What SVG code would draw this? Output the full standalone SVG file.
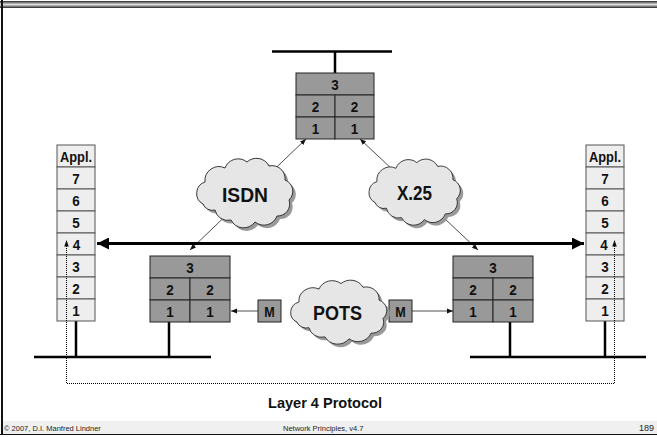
<svg xmlns="http://www.w3.org/2000/svg" width="657" height="437" viewBox="0 0 657 437">
<style>
.lbl{font-family:"Liberation Sans",Arial,sans-serif;font-weight:bold;fill:#111;text-anchor:middle}
.n{font-size:15px}
.big{font-size:20px}
.stk{fill:#eeeeee;stroke:#555;stroke-width:1}
.rtr{fill:#999999;stroke:#222;stroke-width:1}
.bus{stroke:#000;stroke-width:2.5;fill:none}
.thin{stroke:#222;stroke-width:0.8;fill:none}
.foot{font-family:"Liberation Sans",Arial,sans-serif;font-size:7.5px;fill:#222}
</style>
<defs>
<linearGradient id="bar" x1="0" y1="0" x2="0" y2="1">
<stop offset="0" stop-color="#222"/>
<stop offset="0.25" stop-color="#888"/>
<stop offset="0.5" stop-color="#ddd"/>
<stop offset="0.75" stop-color="#888"/>
<stop offset="1" stop-color="#222"/>
</linearGradient>
<path id="cloud" d="M -40,10 a 12 12 0 0 1 2,-22 a 14 14 0 0 1 20,-14 a 14 14 0 0 1 22,-6 a 14 14 0 0 1 22,4 a 13 13 0 0 1 16,14 a 12 12 0 0 1 4,20 a 12 12 0 0 1 -12,16 a 14 14 0 0 1 -22,6 a 14 14 0 0 1 -24,-2 a 13 13 0 0 1 -16,-10 a 10 10 0 0 1 -12,-6 z"/>
<marker id="sa" viewBox="0 0 10 10" refX="10" refY="5" markerWidth="6" markerHeight="6" markerUnits="userSpaceOnUse" orient="auto-start-reverse">
<path d="M0,1 L10,5 L0,9 z" fill="#111"/>
</marker>
<marker id="ba" viewBox="0 0 10 10" refX="10" refY="5" markerWidth="5" markerHeight="4" orient="auto-start-reverse">
<path d="M0,0 L10,5 L0,10 z" fill="#000"/>
</marker>
</defs>
<rect width="657" height="437" fill="#fff"/>
<!-- frame -->
<rect x="0" y="1" width="657" height="7" fill="url(#bar)"/>
<rect x="1" y="0" width="2" height="435" fill="#111"/>
<rect x="3" y="421" width="654" height="13" fill="#f0f0f0"/>
<line x1="0" y1="434.5" x2="657" y2="434.5" stroke="#111" stroke-width="1.2"/>
<text class="foot" x="4" y="431">© 2007, D.I. Manfred Lindner</text>
<text class="foot" x="283" y="431">Network Principles, v4.7</text>
<text class="foot" x="654" y="431" text-anchor="end" style="font-size:9px">189</text>

<g id="connectors">
<line class="bus" x1="272" y1="51.5" x2="392" y2="51.5"/>
<line class="bus" x1="335" y1="51.5" x2="335" y2="73"/>
<line class="bus" x1="34" y1="357" x2="211" y2="357"/>
<line class="bus" x1="76" y1="321" x2="76" y2="357"/>
<line class="bus" x1="169" y1="322" x2="169" y2="357"/>
<line class="bus" x1="470" y1="357" x2="646" y2="357"/>
<line class="bus" x1="510" y1="322" x2="510" y2="357"/>
<line class="bus" x1="605" y1="321" x2="605" y2="357"/>
<line class="thin" x1="306" y1="139" x2="190" y2="250" marker-start="url(#sa)" marker-end="url(#sa)"/>
<line class="thin" x1="360" y1="139" x2="478" y2="250" marker-start="url(#sa)" marker-end="url(#sa)"/>
<line class="thin" x1="258" y1="311" x2="231" y2="311" marker-end="url(#sa)"/>
<line class="thin" x1="411" y1="311" x2="453" y2="311" marker-end="url(#sa)"/>
<line x1="97" y1="243.5" x2="584" y2="243.5" stroke="#000" stroke-width="3" marker-start="url(#ba)" marker-end="url(#ba)"/>
</g>

<g id="stack-left">
<rect class="stk" x="57" y="145" width="38" height="22"/>
<rect class="stk" x="57" y="167" width="38" height="22"/>
<rect class="stk" x="57" y="189" width="38" height="22"/>
<rect class="stk" x="57" y="211" width="38" height="22"/>
<rect class="stk" x="57" y="233" width="38" height="22"/>
<rect class="stk" x="57" y="255" width="38" height="22"/>
<rect class="stk" x="57" y="277" width="38" height="22"/>
<rect class="stk" x="57" y="299" width="38" height="22"/>
<text class="lbl n" x="76" y="161.5" textLength="32" lengthAdjust="spacingAndGlyphs">Appl.</text>
<text class="lbl n" x="76" y="183.5" textLength="7.5" lengthAdjust="spacingAndGlyphs">7</text>
<text class="lbl n" x="76" y="205.5" textLength="7.5" lengthAdjust="spacingAndGlyphs">6</text>
<text class="lbl n" x="76" y="227.5" textLength="7.5" lengthAdjust="spacingAndGlyphs">5</text>
<text class="lbl n" x="76.5" y="249.5" textLength="7.5" lengthAdjust="spacingAndGlyphs">4</text>
<text class="lbl n" x="76" y="271.5" textLength="7.5" lengthAdjust="spacingAndGlyphs">3</text>
<text class="lbl n" x="76" y="293.5" textLength="7.5" lengthAdjust="spacingAndGlyphs">2</text>
<text class="lbl n" x="76" y="315.5" textLength="7.5" lengthAdjust="spacingAndGlyphs">1</text>
</g>

<g id="stack-right">
<rect class="stk" x="586" y="145" width="38" height="22"/>
<rect class="stk" x="586" y="167" width="38" height="22"/>
<rect class="stk" x="586" y="189" width="38" height="22"/>
<rect class="stk" x="586" y="211" width="38" height="22"/>
<rect class="stk" x="586" y="233" width="38" height="22"/>
<rect class="stk" x="586" y="255" width="38" height="22"/>
<rect class="stk" x="586" y="277" width="38" height="22"/>
<rect class="stk" x="586" y="299" width="38" height="22"/>
<text class="lbl n" x="605" y="161.5" textLength="32" lengthAdjust="spacingAndGlyphs">Appl.</text>
<text class="lbl n" x="605" y="183.5" textLength="7.5" lengthAdjust="spacingAndGlyphs">7</text>
<text class="lbl n" x="605" y="205.5" textLength="7.5" lengthAdjust="spacingAndGlyphs">6</text>
<text class="lbl n" x="605" y="227.5" textLength="7.5" lengthAdjust="spacingAndGlyphs">5</text>
<text class="lbl n" x="604" y="249.5" textLength="7.5" lengthAdjust="spacingAndGlyphs">4</text>
<text class="lbl n" x="605" y="271.5" textLength="7.5" lengthAdjust="spacingAndGlyphs">3</text>
<text class="lbl n" x="605" y="293.5" textLength="7.5" lengthAdjust="spacingAndGlyphs">2</text>
<text class="lbl n" x="605" y="315.5" textLength="7.5" lengthAdjust="spacingAndGlyphs">1</text>
</g>

<g id="layer4-protocol">
<polyline points="66.5,246 66.5,383.5 614.5,383.5 614.5,246" fill="none" stroke="#000" stroke-width="1" stroke-dasharray="1,1"/>
<path d="M66.5,240 L64.2,246.5 L68.8,246.5 z" fill="#111"/>
<path d="M614.5,240 L612.2,246.5 L616.8,246.5 z" fill="#111"/>
</g>

<g id="router-top">
<rect class="rtr" x="296" y="73" width="78" height="22"/>
<rect class="rtr" x="296" y="95" width="39" height="22"/>
<rect class="rtr" x="335" y="95" width="39" height="22"/>
<rect class="rtr" x="296" y="117" width="39" height="22"/>
<rect class="rtr" x="335" y="117" width="39" height="22"/>
<text class="lbl n" x="335" y="89.5" textLength="7.5" lengthAdjust="spacingAndGlyphs">3</text>
<text class="lbl n" x="315.5" y="111.5" textLength="7.5" lengthAdjust="spacingAndGlyphs">2</text>
<text class="lbl n" x="354.5" y="111.5" textLength="7.5" lengthAdjust="spacingAndGlyphs">2</text>
<text class="lbl n" x="315.5" y="133.5" textLength="7.5" lengthAdjust="spacingAndGlyphs">1</text>
<text class="lbl n" x="354.5" y="133.5" textLength="7.5" lengthAdjust="spacingAndGlyphs">1</text>
</g>

<g id="router-left">
<rect class="rtr" x="150" y="256" width="80" height="22"/>
<rect class="rtr" x="150" y="278" width="40" height="22"/>
<rect class="rtr" x="190" y="278" width="40" height="22"/>
<rect class="rtr" x="150" y="300" width="40" height="22"/>
<rect class="rtr" x="190" y="300" width="40" height="22"/>
<text class="lbl n" x="190" y="272.5" textLength="7.5" lengthAdjust="spacingAndGlyphs">3</text>
<text class="lbl n" x="170" y="294.5" textLength="7.5" lengthAdjust="spacingAndGlyphs">2</text>
<text class="lbl n" x="210" y="294.5" textLength="7.5" lengthAdjust="spacingAndGlyphs">2</text>
<text class="lbl n" x="170" y="316.5" textLength="7.5" lengthAdjust="spacingAndGlyphs">1</text>
<text class="lbl n" x="210" y="316.5" textLength="7.5" lengthAdjust="spacingAndGlyphs">1</text>
</g>

<g id="router-right">
<rect class="rtr" x="453" y="256" width="80" height="22"/>
<rect class="rtr" x="453" y="278" width="40" height="22"/>
<rect class="rtr" x="493" y="278" width="40" height="22"/>
<rect class="rtr" x="453" y="300" width="40" height="22"/>
<rect class="rtr" x="493" y="300" width="40" height="22"/>
<text class="lbl n" x="493" y="272.5" textLength="7.5" lengthAdjust="spacingAndGlyphs">3</text>
<text class="lbl n" x="473" y="294.5" textLength="7.5" lengthAdjust="spacingAndGlyphs">2</text>
<text class="lbl n" x="513" y="294.5" textLength="7.5" lengthAdjust="spacingAndGlyphs">2</text>
<text class="lbl n" x="473" y="316.5" textLength="7.5" lengthAdjust="spacingAndGlyphs">1</text>
<text class="lbl n" x="513" y="316.5" textLength="7.5" lengthAdjust="spacingAndGlyphs">1</text>
</g>

<g id="modem-left">
<rect class="rtr" x="258" y="300" width="23" height="22"/>
<text class="lbl n" x="269.5" y="316.5" textLength="10.5" lengthAdjust="spacingAndGlyphs">M</text>
</g>
<g id="modem-right">
<rect class="rtr" x="389" y="300" width="23" height="22"/>
<text class="lbl n" x="400.5" y="316.5" textLength="10.5" lengthAdjust="spacingAndGlyphs">M</text>
</g>

<g id="cloud-isdn">
<use href="#cloud" transform="translate(246,197)" fill="#9a9a9a"/>
<use href="#cloud" transform="translate(243,194)" fill="#e6e6e6" stroke="#222" stroke-width="0.9"/>
<text class="lbl big" x="245" y="202" textLength="46" lengthAdjust="spacingAndGlyphs">ISDN</text>
</g>
<g id="cloud-x25">
<use href="#cloud" transform="translate(416,196) scale(0.95)" fill="#9a9a9a"/>
<use href="#cloud" transform="translate(413,193) scale(0.95)" fill="#e6e6e6" stroke="#222" stroke-width="0.9"/>
<text class="lbl big" x="414.5" y="200" textLength="35" lengthAdjust="spacingAndGlyphs">X.25</text>
</g>
<g id="cloud-pots">
<use href="#cloud" transform="translate(340,316) scale(1,0.92)" fill="#9a9a9a"/>
<use href="#cloud" transform="translate(337,313) scale(1,0.92)" fill="#e6e6e6" stroke="#222" stroke-width="0.9"/>
<text class="lbl big" x="337.5" y="320" textLength="49" lengthAdjust="spacingAndGlyphs">POTS</text>
</g>

<text class="lbl" x="325" y="408" style="font-size:15px" textLength="114" lengthAdjust="spacingAndGlyphs">Layer 4 Protocol</text>
</svg>
